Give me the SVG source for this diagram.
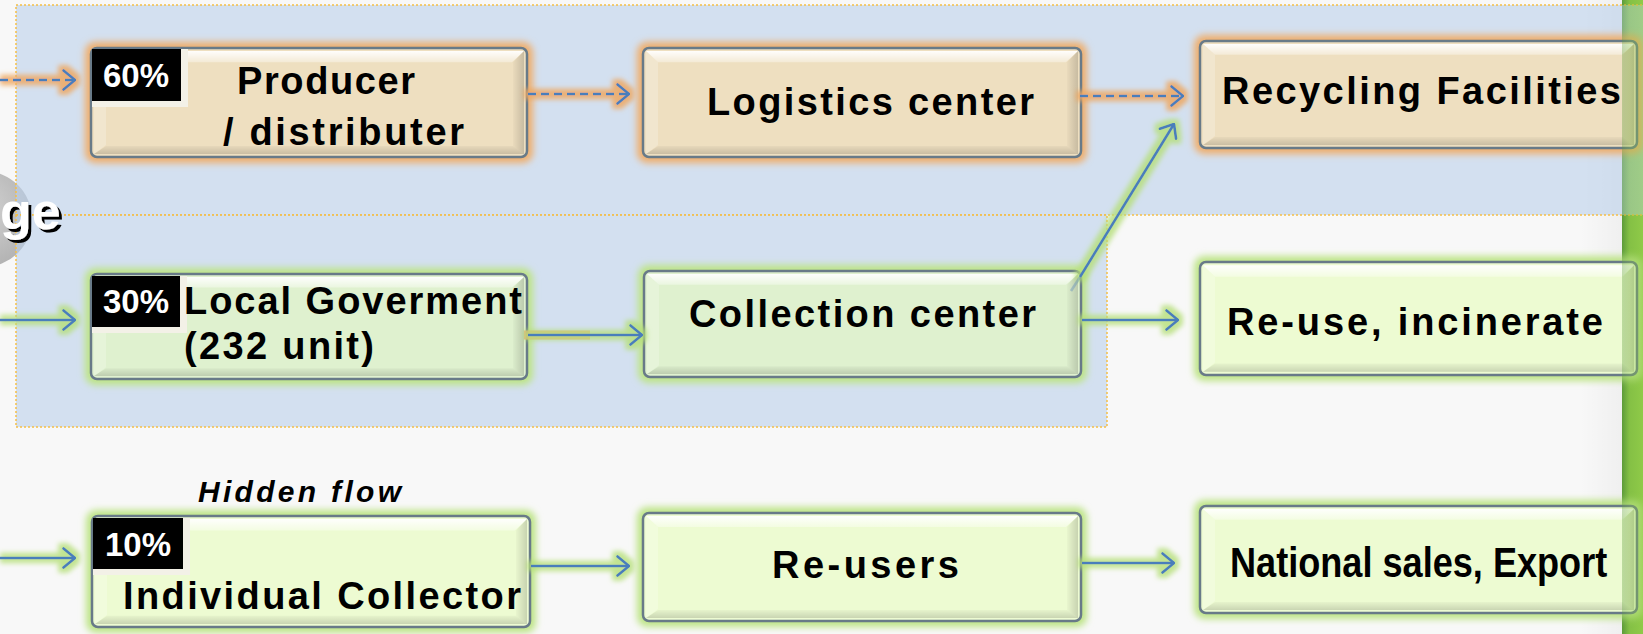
<svg xmlns="http://www.w3.org/2000/svg" xmlns:xlink="http://www.w3.org/1999/xlink" width="1643" height="634" viewBox="0 0 1643 634">
  <style>
    .lbl { font-family: "Liberation Sans", Arial, sans-serif; font-weight: bold; font-size: 38px; fill: #000; }
    .pct { font-family: "Liberation Sans", Arial, sans-serif; font-weight: bold; font-size: 33px; fill: #fff; text-anchor: middle; }
    .narrow { font-family: "Liberation Sans", Arial, sans-serif; font-weight: bold; font-size: 42px; fill: #000; }
    .note { font-family: "Liberation Sans", Arial, sans-serif; font-weight: bold; font-style: italic; font-size: 30px; fill: #000; }
    .box { stroke: #687a88; stroke-width: 2.5; }
    .tan { fill: #eedfc0; }
    .mint { fill: #dff1cf; }
    .lime { fill: #edfbd2; }
    .haloO { fill: #efae6c; }
    .haloG { fill: #bde486; }
    .badge { fill: #000; }
    .badgeLit { fill: #f3f1e7; }
    .region { fill: #bad0eb; fill-opacity: 0.6; stroke: #f5bf45; stroke-width: 1.5; stroke-dasharray: 2 2; }
    .flow { fill: none; stroke: #4a7ebb; stroke-width: 2.6; }
    .dash { stroke-dasharray: 8 5; }
  </style>
  <defs>
    <linearGradient id="bgShade" x1="0" y1="0" x2="1" y2="0">
      <stop offset="0" stop-color="#000" stop-opacity="0"/>
      <stop offset="1" stop-color="#000" stop-opacity="0.035"/>
    </linearGradient>
    <linearGradient id="greenBar" x1="0" y1="0" x2="1" y2="0">
      <stop offset="0" stop-color="#5d9b3a"/>
      <stop offset="0.35" stop-color="#84c045"/>
      <stop offset="1" stop-color="#8fca48"/>
    </linearGradient>
    <radialGradient id="disc" cx="0.45" cy="0.4" r="0.6">
      <stop offset="0" stop-color="#d4d4d4"/>
      <stop offset="1" stop-color="#b4b4b4"/>
    </radialGradient>
    <linearGradient id="bevTop" x1="0" y1="0" x2="0" y2="1">
      <stop offset="0" stop-color="#fff" stop-opacity="0.95"/>
      <stop offset="1" stop-color="#fff" stop-opacity="0.35"/>
    </linearGradient>
    <linearGradient id="bevRight" x1="0" y1="0" x2="1" y2="0">
      <stop offset="0" stop-color="#000" stop-opacity="0.02"/>
      <stop offset="1" stop-color="#000" stop-opacity="0.16"/>
    </linearGradient>
    <linearGradient id="bevBottom" x1="0" y1="0" x2="0" y2="1">
      <stop offset="0" stop-color="#000" stop-opacity="0.03"/>
      <stop offset="1" stop-color="#000" stop-opacity="0.15"/>
    </linearGradient>
    <!-- bevelled chrome shared by every box -->
    <symbol id="bevel" viewBox="0 0 436 108" preserveAspectRatio="none">
      <polygon points="3,3 433,3 421,14 15,14" fill="url(#bevTop)"/>
      <polygon points="3,3 15,14 15,96 3,105" fill="#fff" fill-opacity="0.22"/>
      <polygon points="433,3 433,105 422,97 422,14" fill="url(#bevRight)"/>
      <polygon points="3,105 433,105 422,97 15,97" fill="url(#bevBottom)"/>
    </symbol>
    <filter id="soft" x="-5%" y="-20%" width="110%" height="140%">
      <feGaussianBlur stdDeviation="3.5"/>
    </filter>
    <filter id="glowO" filterUnits="userSpaceOnUse" x="0" y="0" width="1643" height="634">
      <feMorphology in="SourceAlpha" operator="dilate" radius="4" result="grow"/>
      <feGaussianBlur in="grow" stdDeviation="2.5" result="blur"/>
      <feFlood flood-color="#eea862" flood-opacity="0.85"/>
      <feComposite in2="blur" operator="in" result="halo"/>
      <feMerge><feMergeNode in="halo"/><feMergeNode in="SourceGraphic"/></feMerge>
    </filter>
    <filter id="glowG" filterUnits="userSpaceOnUse" x="0" y="0" width="1643" height="634">
      <feMorphology in="SourceAlpha" operator="dilate" radius="4" result="grow"/>
      <feGaussianBlur in="grow" stdDeviation="2.5" result="blur"/>
      <feFlood flood-color="#b5df78" flood-opacity="0.8"/>
      <feComposite in2="blur" operator="in" result="halo"/>
      <feMerge><feMergeNode in="halo"/><feMergeNode in="SourceGraphic"/></feMerge>
    </filter>
    <filter id="drop" x="-20%" y="-20%" width="140%" height="140%">
      <feOffset dx="3" dy="3" in="SourceAlpha" result="o"/>
      <feFlood flood-color="#000"/>
      <feComposite in2="o" operator="in" result="s"/>
      <feMerge><feMergeNode in="s"/><feMergeNode in="SourceGraphic"/></feMerge>
    </filter>
    <marker id="arr" viewBox="0 0 14 22" refX="13" refY="11" markerWidth="14" markerHeight="22" orient="auto" markerUnits="userSpaceOnUse">
      <path d="M1.5,1.5 L13,11 L1.5,20.5" fill="none" stroke="#4a7ebb" stroke-width="2.6" stroke-dasharray="none" stroke-linecap="round" stroke-linejoin="round"/>
    </marker>
  </defs>

  <!-- page -->
  <rect x="0" y="0" width="1643" height="634" fill="#f8f8f8"/>
  <rect x="1580" y="0" width="42" height="634" fill="url(#bgShade)"/>
  <rect x="1622" y="0" width="21" height="634" fill="url(#greenBar)"/>
  <circle cx="-16" cy="219" r="48" fill="url(#disc)"/>

  <!-- shaded zones -->
  <g id="zones">
    <rect class="region" x="16" y="5" width="1640" height="210"/>
    <rect class="region" x="16" y="215" width="1091" height="212"/>
  </g>

  <text x="0" y="229" font-family="'Liberation Sans', Arial, sans-serif" font-weight="bold" font-size="52" fill="#fff" filter="url(#drop)">ge</text>

  <!-- row 1 -->
  <g id="producer">
    <rect class="haloO" x="85" y="42" width="448" height="121" rx="10" filter="url(#soft)"/>
    <rect class="box tan" x="91" y="48" width="436" height="109" rx="6"/>
    <use href="#bevel" x="91" y="48" width="436" height="109"/>
    <rect class="badgeLit" x="92" y="49" width="96" height="58"/>
    <rect class="badge" x="92" y="49" width="89" height="52"/>
    <text class="pct" x="136" y="87">60%</text>
    <text class="lbl" x="237" y="94" textLength="178" lengthAdjust="spacing">Producer</text>
    <text class="lbl" x="223" y="145" textLength="241" lengthAdjust="spacing">/ distributer</text>
  </g>
  <g id="logistics">
    <rect class="haloO" x="637" y="42" width="450" height="121" rx="10" filter="url(#soft)"/>
    <rect class="box tan" x="643" y="48" width="438" height="109" rx="6"/>
    <use href="#bevel" x="643" y="48" width="438" height="109"/>
    <text class="lbl" x="707" y="115" textLength="327" lengthAdjust="spacing">Logistics center</text>
  </g>
  <g id="recycling">
    <rect class="haloO" x="1194" y="35" width="449" height="119" rx="10" filter="url(#soft)"/>
    <rect class="box tan" x="1200" y="41" width="437" height="107" rx="6"/>
    <use href="#bevel" x="1200" y="41" width="437" height="107"/>
    <text class="lbl" x="1222" y="104" textLength="399" lengthAdjust="spacing">Recycling Facilities</text>
  </g>

  <!-- row 2 -->
  <g id="local-government">
    <rect class="haloG" x="85" y="268" width="448" height="117" rx="10" filter="url(#soft)"/>
    <rect class="box mint" x="91" y="274" width="436" height="105" rx="6"/>
    <use href="#bevel" x="91" y="274" width="436" height="105"/>
    <rect class="badgeLit" x="92" y="276" width="95" height="57"/>
    <rect class="badge" x="92" y="276" width="88" height="51"/>
    <text class="pct" x="136" y="313">30%</text>
    <text class="lbl" x="184" y="314" textLength="338" lengthAdjust="spacing">Local Goverment</text>
    <text class="lbl" x="184" y="359" textLength="190" lengthAdjust="spacing">(232 unit)</text>
  </g>
  <g id="collection">
    <rect class="haloG" x="638" y="265" width="449" height="118" rx="10" filter="url(#soft)"/>
    <rect class="box mint" x="644" y="271" width="437" height="106" rx="6"/>
    <use href="#bevel" x="644" y="271" width="437" height="106"/>
    <text class="lbl" x="689" y="327" textLength="347" lengthAdjust="spacing">Collection center</text>
  </g>
  <g id="reuse-incinerate">
    <rect class="haloG" x="1194" y="256" width="449" height="125" rx="10" filter="url(#soft)"/>
    <rect class="box lime" x="1200" y="262" width="437" height="113" rx="6"/>
    <use href="#bevel" x="1200" y="262" width="437" height="113"/>
    <text class="lbl" x="1227" y="335" textLength="376" lengthAdjust="spacing">Re-use, incinerate</text>
  </g>

  <!-- row 3 -->
  <text class="note" x="198" y="502" textLength="203" lengthAdjust="spacing">Hidden flow</text>
  <g id="individual-collector">
    <rect class="haloG" x="86" y="510" width="450" height="123" rx="10" filter="url(#soft)"/>
    <rect class="box lime" x="92" y="516" width="438" height="111" rx="6"/>
    <use href="#bevel" x="92" y="516" width="438" height="111"/>
    <rect class="badgeLit" x="93" y="518" width="97" height="57"/>
    <rect class="badge" x="93" y="518" width="90" height="51"/>
    <text class="pct" x="138" y="556">10%</text>
    <text class="lbl" x="123" y="609" textLength="398" lengthAdjust="spacing">Individual Collector</text>
  </g>
  <g id="re-users">
    <rect class="haloG" x="637" y="507" width="450" height="120" rx="10" filter="url(#soft)"/>
    <rect class="box lime" x="643" y="513" width="438" height="108" rx="6"/>
    <use href="#bevel" x="643" y="513" width="438" height="108"/>
    <text class="lbl" x="772" y="578" textLength="187" lengthAdjust="spacing">Re-users</text>
  </g>
  <g id="national-export">
    <rect class="haloG" x="1194" y="500" width="449" height="119" rx="10" filter="url(#soft)"/>
    <rect class="box lime" x="1200" y="506" width="437" height="107" rx="6"/>
    <use href="#bevel" x="1200" y="506" width="437" height="107"/>
    <!-- condensed face: horizontally squeezed bold sans -->
    <text class="narrow" transform="translate(1230 577) scale(0.86 1)" x="0" y="0">National sales, Export</text>
  </g>

  <!-- green edge seen through the box ends -->
  <rect x="1622" y="0" width="21" height="634" fill="url(#greenBar)" fill-opacity="0.35"/>

  <!-- flows -->
  <g id="connectors">
    <g filter="url(#glowO)">
      <line class="flow dash" x1="0" y1="80" x2="75" y2="80" marker-end="url(#arr)"/>
      <line class="flow dash" x1="528" y1="94" x2="629" y2="94" marker-end="url(#arr)"/>
      <line class="flow dash" x1="1080" y1="96" x2="1183" y2="96" marker-end="url(#arr)"/>
    </g>
    <line x1="524" y1="335" x2="590" y2="335" stroke="#e9a872" stroke-width="9" stroke-opacity="0.85"/>
    <g filter="url(#glowG)">
      <line class="flow" x1="0" y1="320" x2="75" y2="320" marker-end="url(#arr)"/>
      <line class="flow" x1="528" y1="335" x2="642" y2="335" marker-end="url(#arr)"/>
      <line class="flow" x1="1080" y1="277" x2="1174" y2="124" marker-end="url(#arr)"/>
      <line class="flow" x1="1082" y1="320" x2="1178" y2="320" marker-end="url(#arr)"/>
      <line class="flow" x1="0" y1="558" x2="75" y2="558" marker-end="url(#arr)"/>
      <line class="flow" x1="531" y1="566" x2="629" y2="566" marker-end="url(#arr)"/>
      <line class="flow" x1="1082" y1="563" x2="1174" y2="563" marker-end="url(#arr)"/>
    </g>
    <line class="flow" x1="1071" y1="291" x2="1080" y2="277" stroke-opacity="0.35"/>
  </g>
</svg>
